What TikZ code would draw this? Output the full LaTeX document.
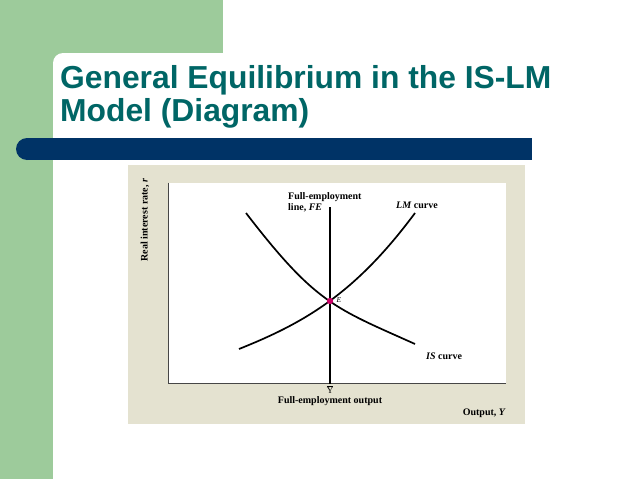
\documentclass[tikz,border=0pt]{standalone}
\usepackage{fontspec}
\setmainfont{Liberation Serif}
\newfontfamily\titlefont{Liberation Sans}
\definecolor{slidegreen}{RGB}{157,203,155}
\definecolor{barnavy}{RGB}{0,51,102}
\definecolor{titleteal}{RGB}{0,102,102}
\definecolor{panelbeige}{RGB}{228,226,208}
\definecolor{eqpink}{RGB}{204,0,102}
\definecolor{axisgray}{RGB}{70,70,70}
\begin{document}
\begin{tikzpicture}[x=1pt,y=-1pt,
  titletext/.style={anchor=base west,inner sep=0pt,text=titleteal,font=\titlefont\bfseries\fontsize{31.8}{34}\selectfont},
  lbl/.style={inner sep=0pt,font=\bfseries\fontsize{10}{11}\selectfont},
  curve/.style={line width=1.7pt,black},
  axisline/.style={line width=0.9pt,axisgray}]
\useasboundingbox (0,0) rectangle (638,479);
\fill[white] (0,0) rectangle (638,479);
% green decoration
\fill[slidegreen] (0,0) rectangle (222.7,53);
\fill[slidegreen] (0,0) rectangle (53,479);
\fill[slidegreen] (53,53) rectangle (63,63);
\fill[white] (63,63) circle (10);
% title
\node[titletext] (t1) at (60,88.3) {General Equilibrium in the IS-LM};
\node[titletext] (t2) at (60,121.7) {Model (Diagram)};
% navy bar
\fill[barnavy] (27,149) circle (11);
\fill[barnavy] (27,138) rectangle (532,160);
% beige panel and white plot area
\fill[panelbeige] (128,165) rectangle (525,424);
\fill[white] (168,183) rectangle (506,383);
\draw[axisline] (168,182.5) -- (168,383) -- (506,383);
% curves
\coordinate (E) at (330,301);
\draw[curve] (246,213) .. controls (316,304) and (335,308) .. (415,344);
\draw[curve] (239,349) .. controls (304,323) and (355,294) .. (415,213);
\draw[curve] (330,207) -- (330,384);
\fill[eqpink] (E) circle (3.2);
% labels
\node[lbl,anchor=base west] (fe1) at (288,199) {Full-employment};
\node[lbl,anchor=base west] (fe2) at (288,210) {line, \textit{FE}};
\node[lbl,anchor=west] (lm) at (396,205) {\textit{LM} curve};
\node[lbl,anchor=west] (is) at (426,356) {\textit{IS} curve};
\node[inner sep=0pt,anchor=west,font=\itshape\fontsize{7.5}{8}\selectfont] (el) at (336.5,300) {E};
\node[inner sep=0pt,font=\fontsize{9}{10}\selectfont] (yb) at (330,389.5) {$\overline{\mathrm{Y}}$};
\node[lbl] (feo) at (330,401) {Full-employment output};
\node[lbl,anchor=east] (out) at (506,413) {Output, \textit{Y}};
\node[lbl,rotate=90] (ra) at (145,220) {Real interest rate, \textit{r}};
\end{tikzpicture}
\end{document}
